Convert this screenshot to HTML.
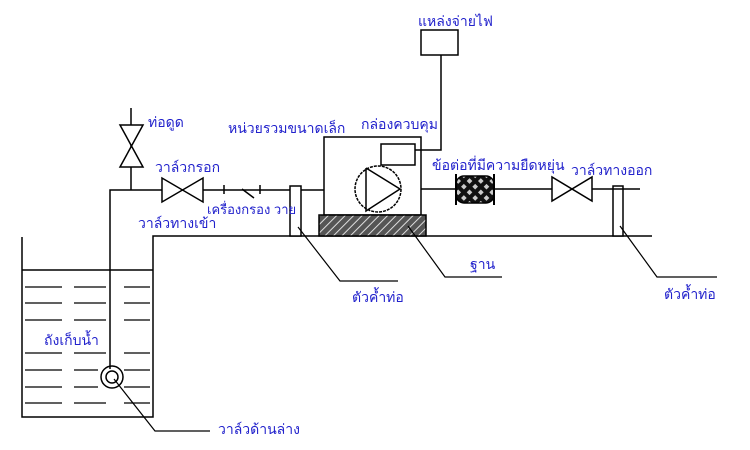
<!DOCTYPE html>
<html><head><meta charset="utf-8"><style>
html,body{margin:0;padding:0;background:#fff;width:750px;height:450px;overflow:hidden}
text{font-family:"Liberation Sans","DejaVu Sans","Noto Sans CJK SC",sans-serif;font-size:14px;fill:#2222cc}
</style></head><body>
<svg width="750" height="450" viewBox="0 0 750 450" xmlns="http://www.w3.org/2000/svg">
<defs>
<pattern id="h" width="6" height="6" patternUnits="userSpaceOnUse" patternTransform="rotate(45)">
<rect width="6" height="6" fill="#555"/><line x1="0" y1="0" x2="0" y2="6" stroke="#ddd" stroke-width="2"/>
</pattern>
<pattern id="x" width="8" height="8" patternUnits="userSpaceOnUse" patternTransform="rotate(45)">
<rect width="8" height="8" fill="#111"/><rect x="2" y="2" width="4" height="4" fill="#ccc"/>
</pattern>
</defs>
<g stroke="#000" stroke-width="1.5" fill="none">
<polyline points="22,237 22,417 153,417 153,236 652,236"/>
<line x1="22" y1="270" x2="153" y2="270"/>
<g stroke-width="1.3">
<line x1="25" y1="287" x2="62" y2="287"/><line x1="74" y1="287" x2="106" y2="287"/><line x1="124" y1="287" x2="150" y2="287"/>
<line x1="25" y1="303" x2="62" y2="303"/><line x1="74" y1="303" x2="106" y2="303"/><line x1="124" y1="303" x2="150" y2="303"/>
<line x1="25" y1="320" x2="62" y2="320"/><line x1="74" y1="320" x2="106" y2="320"/><line x1="124" y1="320" x2="150" y2="320"/>
<line x1="25" y1="353" x2="62" y2="353"/><line x1="74" y1="353" x2="106" y2="353"/><line x1="124" y1="353" x2="150" y2="353"/>
<line x1="25" y1="370" x2="62" y2="370"/><line x1="74" y1="370" x2="98" y2="370"/><line x1="124" y1="370" x2="150" y2="370"/>
<line x1="25" y1="387" x2="62" y2="387"/><line x1="74" y1="387" x2="98" y2="387"/><line x1="124" y1="387" x2="150" y2="387"/>
<line x1="25" y1="403" x2="62" y2="403"/><line x1="74" y1="403" x2="106" y2="403"/><line x1="124" y1="403" x2="150" y2="403"/>
</g>
<polyline points="110,369 110,190 324,190"/>
<circle cx="112" cy="377" r="11"/><circle cx="112" cy="377" r="6"/>
<line x1="131" y1="108" x2="131" y2="190"/>
<polygon points="120,125 143,125 120,167 143,167" fill="#fff"/>
<polygon points="162,178 162,202 203,178 203,202" fill="#fff"/>
<line x1="224" y1="185" x2="224" y2="194"/><line x1="260" y1="185" x2="260" y2="194"/>
<line x1="242" y1="189" x2="254" y2="198"/>
<rect x="290" y="186" width="11" height="50" fill="#fff"/>
<rect x="613" y="186" width="10" height="50" fill="#fff"/>
<rect x="324" y="137" width="97" height="78" fill="#fff"/>
<rect x="319" y="215" width="107" height="21" fill="url(#h)"/>
<rect x="381" y="144" width="34" height="21" fill="#fff"/>
<polyline points="415,150 441,150 441,55"/>
<rect x="421" y="30" width="37" height="25" fill="#fff"/>
<circle cx="378" cy="189" r="23" stroke-dasharray="3,1"/>
<polyline points="366,168 400,189 366,211 366,168"/>
<line x1="421" y1="189" x2="640" y2="189"/>
<rect x="456" y="176" width="38" height="27" rx="8" fill="url(#x)"/>
<line x1="456" y1="174" x2="456" y2="205" stroke-width="2"/><line x1="494" y1="174" x2="494" y2="205" stroke-width="2"/>
<polygon points="552,177 552,201 592,177 592,201" fill="#fff"/>
<polyline points="298,227 340,281 398,281" stroke-width="1.2"/>
<polyline points="408,226 445,277 502,277" stroke-width="1.2"/>
<polyline points="620,226 657,277 717,277" stroke-width="1.2"/>
<polyline points="114,379 155,431 210,431" stroke-width="1.2"/>
</g>
<text x="418" y="26">แหล่งจ่ายไฟ</text>
<text x="148" y="127">ท่อดูด</text>
<text x="228" y="133">หน่วยรวมขนาดเล็ก</text>
<text x="361" y="129">กล่องควบคุม</text>
<text x="155" y="172">วาล์วกรอก</text>
<text x="432" y="170">ข้อต่อที่มีความยืดหยุ่น</text>
<text x="571" y="175">วาล์วทางออก</text>
<text x="138" y="228">วาล์วทางเข้า</text>
<text x="207" y="214" style="font-size:13px">เครื่องกรอง วาย</text>
<text x="470" y="269">ฐาน</text>
<text x="352" y="302">ตัวค้ำท่อ</text>
<text x="664" y="299">ตัวค้ำท่อ</text>
<text x="44" y="345">ถังเก็บน้ำ</text>
<text x="218" y="434">วาล์วด้านล่าง</text>
</svg>
</body></html>
